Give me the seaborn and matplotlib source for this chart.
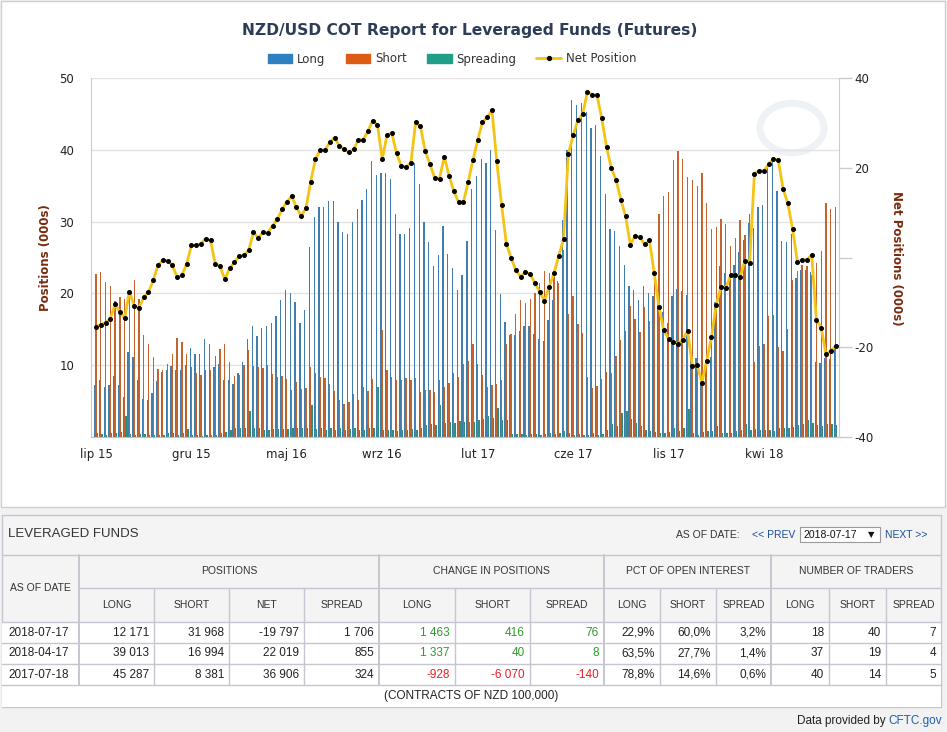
import numpy as np
import pandas as pd
import matplotlib.pyplot as plt
import seaborn as sns
from matplotlib.patches import Rectangle, Patch, Circle
from matplotlib.lines import Line2D

# weekly COT values for leveraged funds, 2015-07-28 .. 2018-07-17 (000s of contracts)
long_pos = [7.3, 8.0, 7.0, 7.3, 8.5, 7.3, 5.6, 11.9, 11.2, 8.0, 5.3, 5.2, 6.1, 7.8, 9.0, 9.3, 9.9, 9.3, 9.3, 10.0,
            12.4, 11.6, 11.6, 13.6, 13.0, 9.7, 10.2, 7.9, 8.0, 7.4, 8.9, 10.5, 13.6, 15.5, 14.0, 15.2, 15.4, 15.9, 16.8, 19.1,
            20.5, 20.1, 18.8, 15.9, 17.7, 26.5, 30.7, 32.1, 32.0, 32.9, 32.9, 30.0, 28.6, 28.3, 30.0, 31.8, 33.0, 34.5, 38.4, 36.5,
            36.7, 36.8, 35.9, 31.1, 28.3, 28.3, 29.1, 38.2, 35.3, 30.0, 27.1, 23.8, 25.4, 29.4, 25.5, 23.6, 20.5, 22.5, 27.3, 34.5,
            36.3, 38.7, 38.2, 40.0, 28.8, 19.9, 16.0, 14.2, 14.2, 14.8, 15.4, 15.4, 14.4, 13.7, 13.4, 16.3, 19.1, 21.7, 30.2, 40.0,
            46.9, 46.3, 46.5, 45.3, 43.1, 43.4, 39.1, 33.9, 28.9, 28.7, 26.6, 23.9, 21.1, 20.5, 19.1, 21.0, 20.0, 19.6, 20.0, 17.4,
            15.9, 19.7, 20.6, 20.4, 19.8, 11.7, 11.0, 8.8, 9.6, 11.2, 18.8, 23.8, 22.9, 22.5, 23.9, 25.8, 27.5, 29.8, 29.1, 32.0,
            32.3, 37.5, 39.0, 34.2, 27.3, 27.2, 28.3, 22.2, 23.3, 23.3, 23.0, 10.4, 10.3, 11.0, 10.9, 12.2]
short_pos = [22.7, 23.0, 21.6, 21.1, 18.9, 19.5, 19.2, 19.7, 21.9, 19.2, 14.2, 13.0, 11.2, 9.5, 9.4, 10.1, 11.6, 13.8, 13.3, 11.5,
             9.7, 8.9, 8.6, 9.4, 9.3, 11.3, 12.2, 12.9, 10.5, 8.5, 8.7, 10.0, 12.1, 9.9, 9.7, 9.6, 10.0, 8.8, 8.4, 8.5,
             8.1, 6.5, 7.7, 6.7, 6.8, 9.7, 8.9, 8.4, 8.2, 7.4, 6.4, 5.2, 4.6, 4.9, 6.0, 5.2, 7.0, 6.4, 8.1, 7.0,
             14.9, 9.4, 8.3, 8.0, 8.0, 8.2, 8.0, 8.2, 6.2, 6.5, 6.5, 6.2, 7.9, 7.0, 7.5, 8.9, 8.3, 10.2, 10.6, 13.0,
             10.2, 8.6, 6.9, 7.3, 7.4, 8.0, 13.0, 14.3, 17.1, 19.1, 18.6, 19.2, 20.1, 21.4, 23.1, 22.8, 22.5, 21.4, 26.0, 17.2,
             19.7, 15.8, 14.5, 8.4, 6.8, 7.1, 8.1, 9.1, 8.9, 11.3, 13.5, 14.7, 18.2, 16.4, 14.6, 18.1, 16.2, 23.1, 31.0, 33.6,
             34.1, 38.6, 39.8, 38.7, 36.2, 35.8, 34.9, 36.7, 32.6, 29.0, 29.3, 30.3, 29.7, 26.6, 27.7, 30.2, 28.2, 31.0, 10.4, 12.7,
             13.0, 16.9, 17.0, 12.5, 12.0, 15.1, 21.9, 23.1, 23.9, 23.8, 22.5, 24.3, 25.9, 32.6, 31.7, 32.0]
spreading = [0.5, 0.4, 0.3, 0.5, 0.5, 0.7, 2.9, 0.4, 0.3, 0.4, 0.4, 0.3, 0.3, 0.3, 0.3, 0.5, 0.5, 0.3, 0.5, 1.1,
             0.3, 0.3, 0.2, 0.3, 0.3, 0.3, 0.6, 0.7, 1.0, 1.2, 1.3, 1.2, 3.6, 1.2, 1.2, 1.0, 1.0, 1.1, 1.1, 1.1,
             1.1, 1.2, 1.2, 1.2, 1.2, 4.4, 1.1, 1.2, 1.0, 1.2, 1.0, 1.2, 1.0, 1.1, 1.2, 1.0, 1.0, 1.2, 1.2, 7.0,
             1.0, 1.0, 1.0, 0.9, 1.0, 1.0, 1.1, 1.0, 1.3, 1.7, 1.8, 1.7, 4.4, 2.0, 2.1, 2.0, 2.2, 2.1, 2.1, 2.1,
             2.4, 2.5, 2.9, 2.7, 4.1, 2.4, 2.4, 0.4, 0.4, 0.4, 0.3, 0.4, 0.4, 0.3, 0.4, 0.5, 0.4, 0.5, 0.9, 0.5,
             0.3, 0.4, 0.3, 0.3, 0.5, 0.3, 0.4, 1.0, 1.8, 1.5, 3.3, 3.6, 2.5, 1.9, 1.6, 1.0, 0.8, 0.7, 0.6, 0.5,
             0.7, 1.2, 0.9, 1.2, 3.9, 0.5, 0.3, 0.7, 0.8, 0.9, 1.5, 0.5, 0.6, 0.6, 0.8, 1.0, 1.8, 1.0, 1.1, 1.0,
             1.0, 1.0, 0.86, 1.3, 1.3, 1.3, 1.4, 1.7, 1.8, 2.4, 2.0, 1.7, 1.5, 1.8, 1.8, 1.7]
net_pos = [-15.4, -15.0, -14.5, -13.6, -10.4, -12.2, -13.5, -7.6, -10.8, -11.2, -8.9, -7.7, -5.1, -1.7, -0.6, -0.7, -1.7, -4.4, -4.0, -1.4,
           2.7, 2.7, 3.1, 4.2, 3.8, -1.5, -2.0, -4.9, -2.4, -1.1, 0.3, 0.5, 1.6, 5.6, 4.4, 5.6, 5.5, 7.1, 8.5, 10.7,
           12.4, 13.7, 11.2, 9.2, 11.0, 16.9, 22.0, 23.9, 23.9, 25.7, 26.7, 24.9, 24.1, 23.5, 24.1, 26.2, 26.2, 28.2, 30.5, 29.5,
           21.9, 27.4, 27.7, 23.2, 20.4, 20.2, 21.1, 30.1, 29.2, 23.7, 20.8, 17.7, 17.6, 22.5, 18.2, 14.8, 12.3, 12.3, 16.8, 21.7,
           26.2, 30.2, 31.2, 32.8, 21.4, 11.8, 3.1, -0.1, -2.8, -4.3, -3.2, -3.7, -5.7, -7.7, -9.6, -6.5, -3.5, 0.4, 4.2, 23.0,
           27.2, 30.6, 32.0, 36.9, 36.3, 36.2, 31.0, 24.7, 19.9, 17.3, 12.9, 9.2, 2.8, 4.9, 4.5, 2.9, 3.8, -3.5, -11.0, -16.2,
           -18.2, -18.9, -19.2, -18.3, -16.4, -24.1, -23.9, -27.9, -23.0, -17.8, -10.5, -6.5, -6.8, -4.0, -3.8, -4.4, -0.7, -1.2, 18.7, 19.3,
           19.3, 20.8, 22.0, 21.7, 15.3, 12.1, 6.4, -0.9, -0.6, -0.5, 0.6, -13.9, -15.6, -21.6, -20.8, -19.8]
tick_labels = ['lip 15', 'gru 15', 'maj 16', 'wrz 16', 'lut 17', 'cze 17', 'lis 17', 'kwi 18']

# table below the chart
row_dates = ['2018-07-17', '2018-04-17', '2017-07-18']
t_long = [12171, 39013, 45287]
t_short = [31968, 16994, 8381]
t_net = [-19797, 22019, 36906]
t_spread = [1706, 855, 324]
ch_long = [1463, 1337, -928]
ch_short = [416, 40, -6070]
ch_spread = [76, 8, -140]
pct_long = [22.9, 63.5, 78.8]
pct_short = [60.0, 27.7, 14.6]
pct_spread = [3.2, 1.4, 0.6]
tr_long = [18, 37, 40]
tr_short = [40, 19, 14]
tr_spread = [7, 4, 5]

n = len(long_pos)
weeks = list(range(n))
df = pd.DataFrame({
    'week': weeks * 3,
    'series': ['Long'] * n + ['Short'] * n + ['Spreading'] * n,
    'value': long_pos + short_pos + spreading,
})

sns.set_style('white')
plt.rcParams['font.family'] = ['DejaVu Sans']

W, H = 947, 732
def fx(x): return x / W
def fy(y): return 1 - y / H

c_long, c_short, c_spread, c_net = '#2f80c0', '#dc5c14', '#1f9e88', '#f4c414'
label_red = '#7a2b0f'

fig = plt.figure(figsize=(9.47, 7.32), dpi=100, facecolor='#f2f2f2')
fig.add_artist(Rectangle((fx(1), fy(507)), fx(944), 506 / H, transform=fig.transFigure,
                         facecolor='white', edgecolor='#cfcfcf', lw=1, zorder=-2))

# faint logo in the corner
fig.add_artist(Circle((fx(792), fy(128)), 32 / W, transform=fig.transFigure, fill=False,
                      edgecolor='#eef1f5', lw=5, zorder=-1))

ax = fig.add_axes([fx(91), fy(437), fx(839 - 91), (437 - 78) / H])
ax.set_facecolor('none')
sns.barplot(data=df, x='week', y='value', hue='series', hue_order=['Long', 'Short', 'Spreading'],
            palette=[c_long, c_short, c_spread], width=0.8, errorbar=None, linewidth=0,
            legend=False, ax=ax)
xl = (-1.05, n - 1 + 0.73)
ax.set_xlim(*xl)
ax.set_ylim(0, 50)
ax.set_xticks(range(0, n, 20))
ax.set_xticklabels(tick_labels)
ax.set_yticks([0, 10, 20, 30, 40, 50])
ax.set_yticklabels(['', '10', '20', '30', '40', '50'])
ax.tick_params(axis='x', length=6, width=1, color='#c0c0c0', labelsize=8.5, labelcolor='#222222', pad=2)
ax.tick_params(axis='y', length=0, labelsize=8.5, labelcolor='#222222', pad=12)
ax.yaxis.grid(True, color='#e3e3e3', lw=1)
ax.set_axisbelow(True)
ax.set_xlabel('')
ax.set_ylabel('')
for s in ['top', 'right']:
    ax.spines[s].set_visible(False)
ax.spines['left'].set_color('#cccccc')
ax.spines['bottom'].set_color('#c0c0c0')

ax2 = ax.twinx()
sns.lineplot(x=weeks, y=net_pos, ax=ax2, color=c_net, lw=2.0, marker='o', markersize=2.8,
             markerfacecolor='black', markeredgecolor='black', zorder=5)
ax2.set_xlim(*xl)
ax2.set_ylim(-40, 40)
ax2.set_yticks([-40, -20, 0, 20, 40])
ax2.set_yticklabels(['-40', '-20', '', '20', '40'])
ax2.tick_params(axis='y', length=9, width=1, color='#cccccc', labelsize=8.5, labelcolor='#222222', pad=2)
for s in ['top', 'left', 'bottom']:
    ax2.spines[s].set_visible(False)
ax2.spines['right'].set_color('#cccccc')

fig.text(fx(470), fy(31), 'NZD/USD COT Report for Leveraged Funds (Futures)', ha='center', va='center',
         fontsize=11.2, fontweight='bold', color='#2e3d57')
fig.text(fx(45), fy(258), 'Positions (000s)', rotation=90, ha='center', va='center',
         fontsize=8.5, fontweight='bold', color=label_red)
fig.text(fx(896), fy(258), 'Net Positions (000s)', rotation=270, ha='center', va='center',
         fontsize=8.5, fontweight='bold', color=label_red)

handles = [Patch(color=c_long), Patch(color=c_short), Patch(color=c_spread),
           Line2D([], [], color=c_net, lw=2, marker='o', markersize=2.8, mfc='black', mec='black')]
fig.legend(handles, ['Long', 'Short', 'Spreading', 'Net Position'], loc='center',
           bbox_to_anchor=(fx(452), fy(59)), ncol=4, frameon=False, fontsize=8.5,
           handlelength=2.1, handleheight=0.75, handletextpad=0.4, columnspacing=1.7,
           labelcolor='#333333')

# ---- table ----
line_c = '#c6c6d0'
def hline(y, x0, x1, lw=1):
    fig.add_artist(Line2D([fx(x0), fx(x1)], [fy(y), fy(y)], transform=fig.transFigure, color=line_c, lw=lw))
def vline(x, y0, y1, lw=1):
    fig.add_artist(Line2D([fx(x), fx(x)], [fy(y0), fy(y1)], transform=fig.transFigure, color=line_c, lw=lw))

fig.add_artist(Rectangle((fx(2), fy(707)), fx(939), (707 - 515) / H, transform=fig.transFigure,
                         facecolor='#f4f4f4', edgecolor=line_c, lw=1, zorder=-1))
fig.add_artist(Rectangle((fx(2), fy(707)), fx(939), (707 - 622) / H, transform=fig.transFigure,
                         facecolor='white', edgecolor='none', zorder=-1))

tf = 'Liberation Sans'
fig.text(fx(8), fy(534), 'LEVERAGED FUNDS', ha='left', va='center', fontsize=9.5, color='#333333', family=tf)
fig.text(fx(676), fy(535), 'AS OF DATE:', ha='left', va='center', fontsize=7.5, color='#333333', family=tf)
fig.text(fx(752), fy(535), '<< PREV', ha='left', va='center', fontsize=7.5, color='#1c4f96', family=tf)
fig.add_artist(Rectangle((fx(800), fy(542)), fx(80), 15 / H, transform=fig.transFigure,
                         facecolor='white', edgecolor='#9a9a9a', lw=0.8))
fig.text(fx(803), fy(535), '2018-07-17', ha='left', va='center', fontsize=7.5, color='#111111', family=tf)
fig.text(fx(871), fy(535), '▼', ha='center', va='center', fontsize=6, color='#111111', family='DejaVu Sans')
fig.text(fx(885), fy(535), 'NEXT >>', ha='left', va='center', fontsize=7.5, color='#1c4f96', family=tf)

hline(555, 2, 941)
hline(588, 79, 941)
for y in [622, 643, 664, 685]:
    hline(y, 2, 941)
for x in [79, 379, 604, 771]:
    vline(x, 555, 685, lw=1.4)
for x in [154, 229, 304, 455, 530, 660, 716, 829, 886]:
    vline(x, 588, 685)

cols = [79, 154, 229, 304, 379, 455, 530, 604, 660, 716, 771, 829, 886, 941]
groups = [('POSITIONS', 79, 379), ('CHANGE IN POSITIONS', 379, 604),
          ('PCT OF OPEN INTEREST', 604, 771), ('NUMBER OF TRADERS', 771, 941)]
for name, a, b in groups:
    fig.text(fx((a + b) / 2), fy(571), name, ha='center', va='center', fontsize=7.5, color='#333333', family=tf)
fig.text(fx(40), fy(588), 'AS OF DATE', ha='center', va='center', fontsize=7.5, color='#333333', family=tf)
subs = ['LONG', 'SHORT', 'NET', 'SPREAD', 'LONG', 'SHORT', 'SPREAD', 'LONG', 'SHORT', 'SPREAD', 'LONG', 'SHORT', 'SPREAD']
for k, s in enumerate(subs):
    fig.text(fx((cols[k] + cols[k + 1]) / 2), fy(605), s, ha='center', va='center', fontsize=7.5,
             color='#333333', family=tf)

def fmt_int(v):
    return f'{v:,}'.replace(',', ' ')

row_y = [632.5, 653.5, 674.5]
for r in range(3):
    y = fy(row_y[r])
    fig.text(fx(8), y, row_dates[r], ha='left', va='center', fontsize=8.5, color='#222222', family=tf)
    cells = [fmt_int(t_long[r]), fmt_int(t_short[r]), fmt_int(t_net[r]), fmt_int(t_spread[r])]
    for k, s in enumerate(cells):
        fig.text(fx(cols[k + 1] - 5), y, s, ha='right', va='center', fontsize=8.5, color='#222222', family=tf)
    for k, v in enumerate([ch_long[r], ch_short[r], ch_spread[r]]):
        col = '#2e9a2e' if v >= 0 else '#ee1c24'
        fig.text(fx(cols[k + 5] - 5), y, fmt_int(v), ha='right', va='center', fontsize=8.5, color=col, family=tf)
    for k, v in enumerate([pct_long[r], pct_short[r], pct_spread[r]]):
        fig.text(fx(cols[k + 8] - 5), y, f'{v:.1f}%'.replace('.', ','), ha='right', va='center',
                 fontsize=8.5, color='#222222', family=tf)
    for k, v in enumerate([tr_long[r], tr_short[r], tr_spread[r]]):
        fig.text(fx(cols[k + 11] - 5), y, str(v), ha='right', va='center', fontsize=8.5, color='#222222', family=tf)

fig.text(fx(471), fy(696), '(CONTRACTS OF NZD 100,000)', ha='center', va='center', fontsize=8.5,
         color='#222222', family=tf)
fig.text(fx(886), fy(721), 'Data provided by', ha='right', va='center', fontsize=8.5, color='#222222', family=tf)
fig.text(fx(942), fy(721), 'CFTC.gov', ha='right', va='center', fontsize=8.5, color='#1c5fb0', family=tf)

fig.savefig('out.png', dpi=100, facecolor=fig.get_facecolor())
